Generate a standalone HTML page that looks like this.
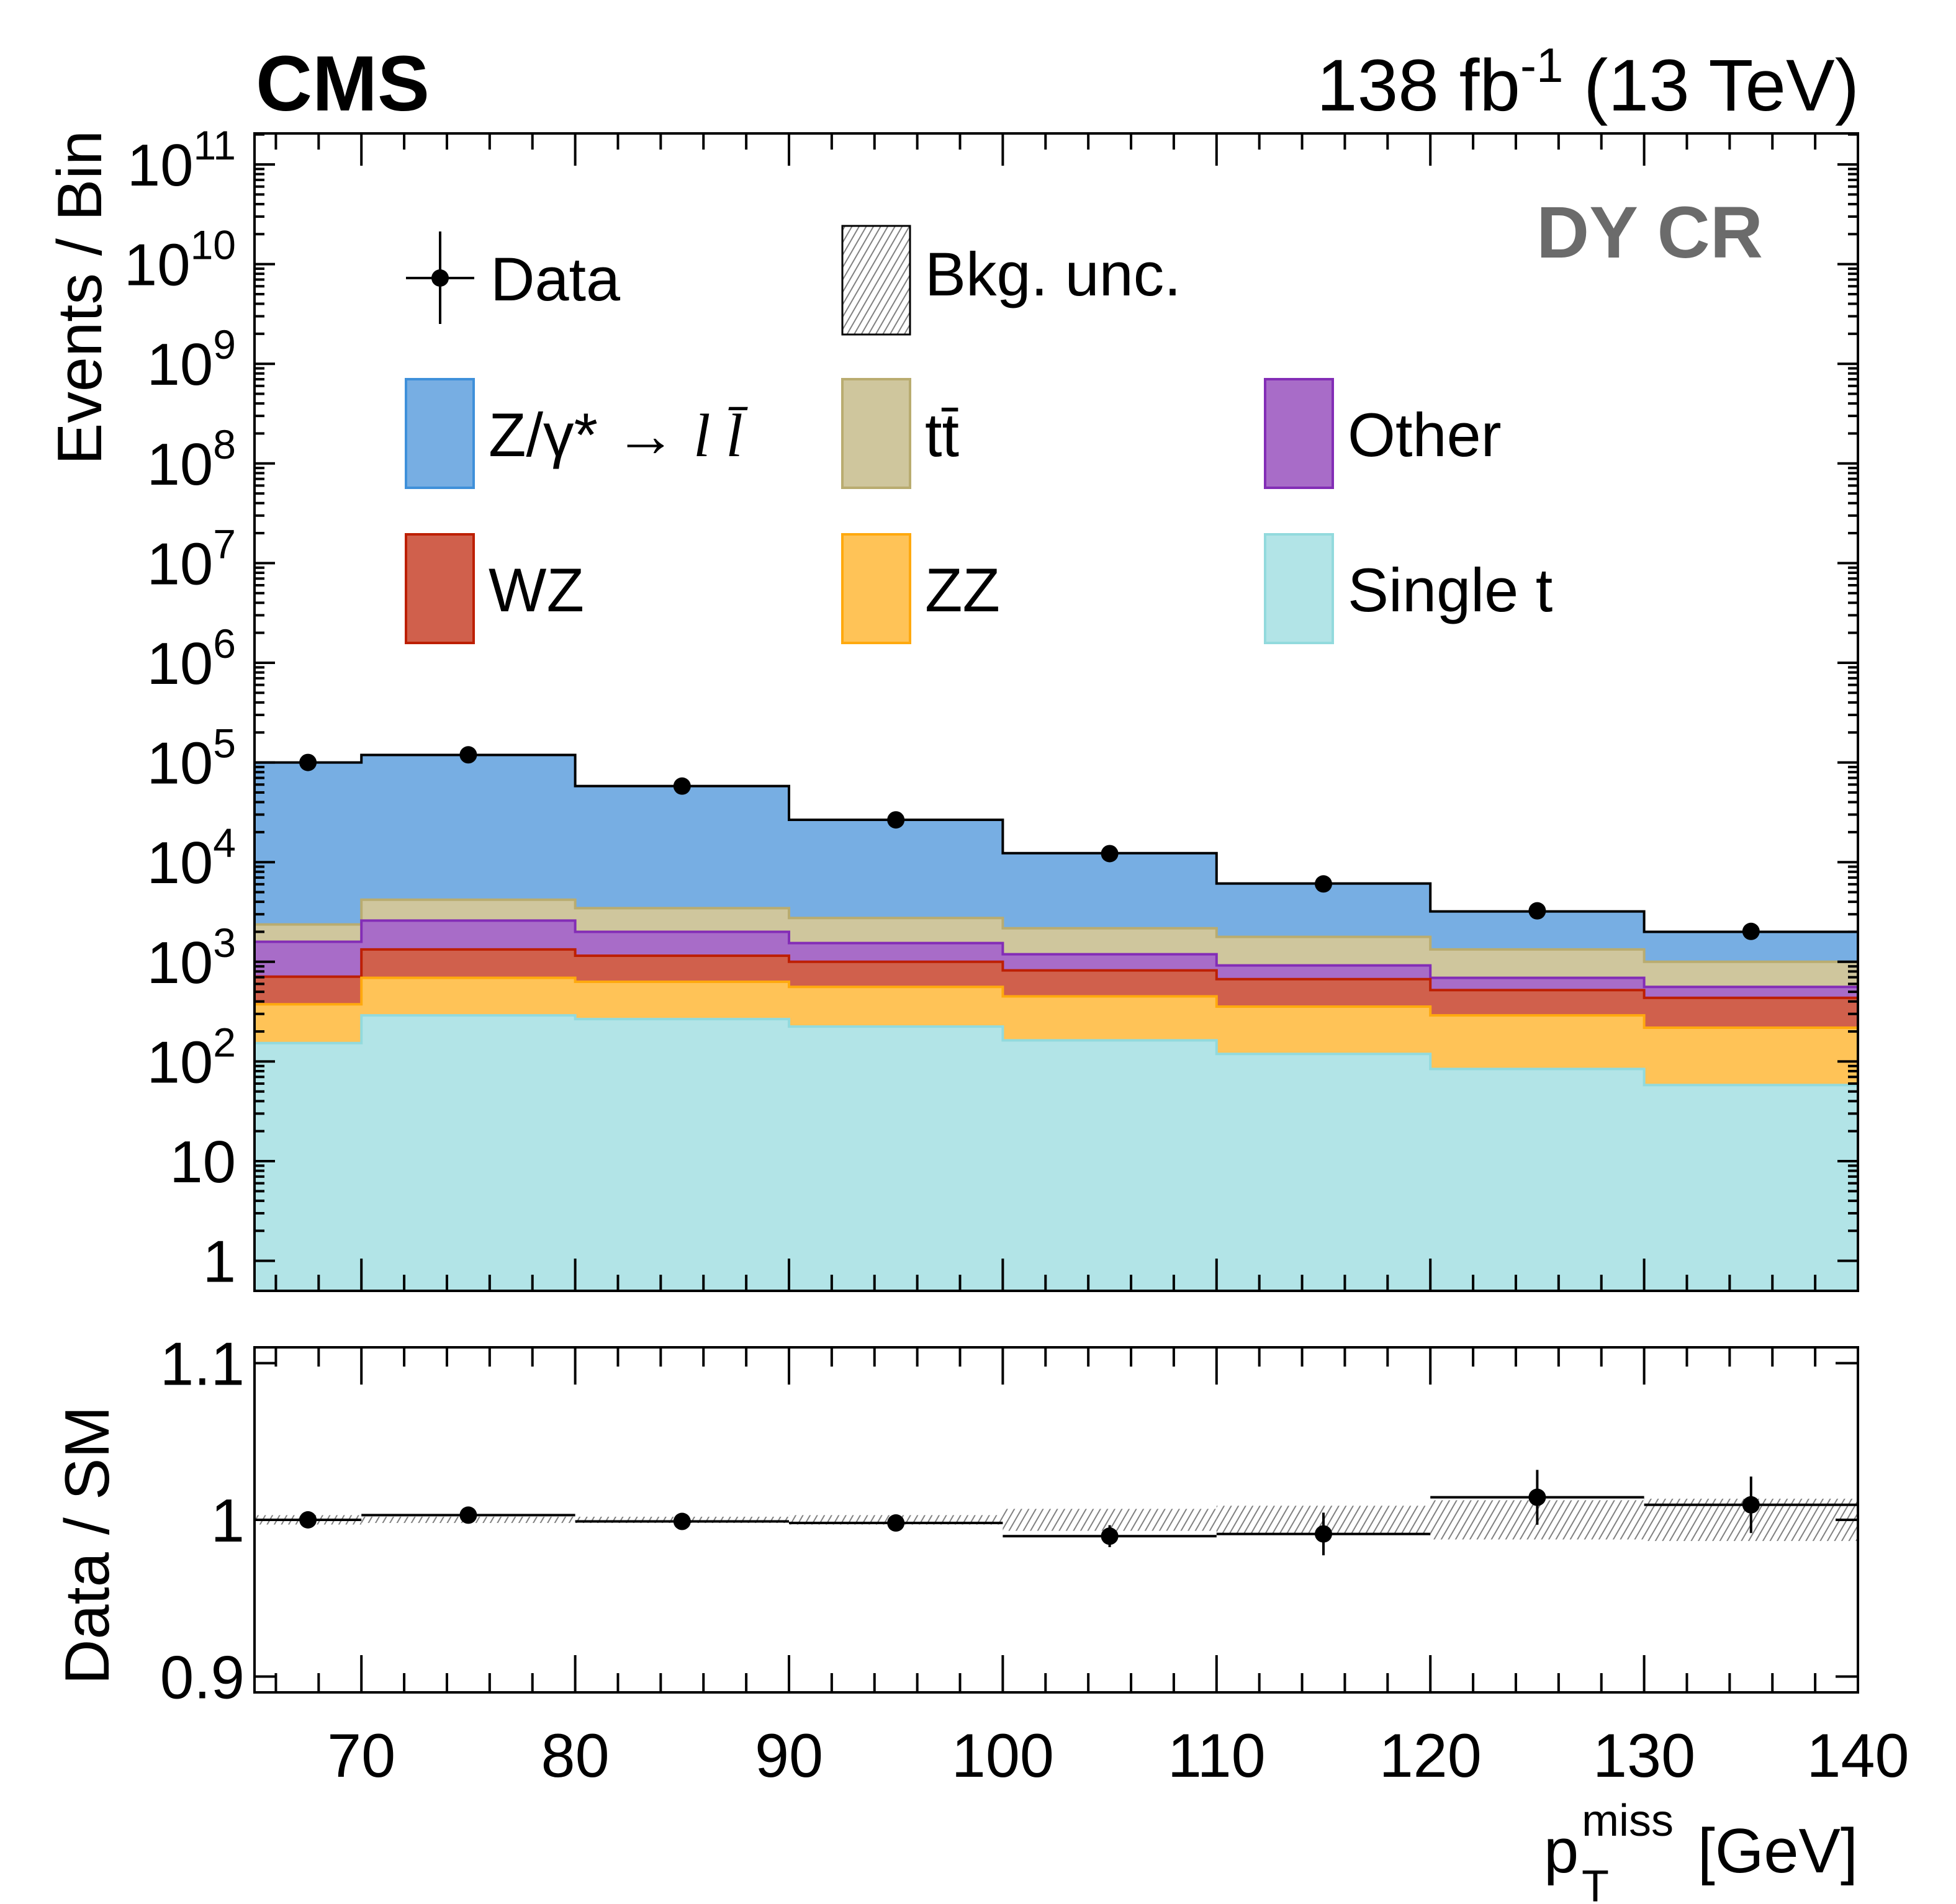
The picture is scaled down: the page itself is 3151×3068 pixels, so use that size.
<!DOCTYPE html>
<html><head><meta charset="utf-8">
<style>
html,body{margin:0;padding:0;background:#fff;}
svg{display:block;font-family:"Liberation Sans",Arial,sans-serif;}
</style></head>
<body>
<svg id="chart" width="3151" height="3068" viewBox="0 0 3151 3068" xmlns="http://www.w3.org/2000/svg">
<defs>
<pattern id="hatch" patternUnits="userSpaceOnUse" width="10" height="10" patternTransform="rotate(30)">
<rect width="10" height="10" fill="none"/>
<line x1="0" y1="0" x2="0" y2="10" stroke="#808080" stroke-width="4"/>
</pattern>
</defs>
<g id="main"></g>
<g id="ratio"></g>
<g id="axes"></g>
<text x="412" y="178" font-size="126" font-weight="bold">CMS</text>
<text x="2995" y="178" font-size="118" text-anchor="end">138 fb<tspan dy="-46" font-size="78">-1</tspan><tspan dy="46"> (13 TeV)</tspan></text>
<text x="2840" y="415" font-size="118" font-weight="bold" fill="#6b6b6b" text-anchor="end">DY CR</text>
<text transform="translate(163,210) rotate(-90)" font-size="101" text-anchor="end">Events / Bin</text>
<text transform="translate(175,2490) rotate(-90)" font-size="101" text-anchor="middle">Data / SM</text>
<g>
<text x="2487" y="3017" font-size="101">p</text>
<text x="2548" y="2958" font-size="72">miss</text>
<text x="2548" y="3064" font-size="72">T</text>
<text x="2993" y="3017" font-size="101" text-anchor="end">[GeV]</text>
</g>
<g id="legend"></g>
</svg>
<script>
const binEdges = [65,70,80,90,100,110,120,130,140];
const singleT = [153,290,266,224,163,119,84,58];
const zz = [222,400,364,336,287,236,206,160];
const wz = [335,640,520,440,370,315,230,217];
const other = [880,1260,850,540,370,250,170,125];
const ttbar = [780,1610,1450,1210,980,860,640,440];
const dy = [97600,114800,54550,23850,10130,4320,1870,1000];
const dataRatio = [1.000,1.003,0.999,0.998,0.9896,0.991,1.0144,1.0096];
const dataRatioErr = [0.002,0.002,0.003,0.004,0.007,0.0136,0.0175,0.018];
const bkgUnc = [0.003,0.002,0.002,0.003,0.007,0.009,0.0125,0.0135];
const logTickExps = [0,1,2,3,4,5,6,7,8,9,10,11];
const xTickLabels = [70,80,90,100,110,120,130,140];
const ratioTicks = [0.9,1.0,1.1];

const NS="http://www.w3.org/2000/svg";
const L=410,R=2993,MT=215,MB=2080,RT=2171,RB=2727;
const X=v=>L+(v-65)*(R-L)/75;
const Y=v=>2031.6-160.6*Math.log10(v);
const YR=v=>2449-(v-1)*2525;
function mk(tag,attrs,parent){const e=document.createElementNS(NS,tag);for(const k in attrs)e.setAttribute(k,attrs[k]);parent.appendChild(e);return e;}
const main=document.getElementById('main'),ratio=document.getElementById('ratio'),axes=document.getElementById('axes'),legend=document.getElementById('legend');

const procs=[
 {n:'single-t',v:singleT,f:'#b2e4e7',s:'#92dadd'},
 {n:'zz',v:zz,f:'#ffc357',s:'#ffa90e'},
 {n:'wz',v:wz,f:'#d0604c',s:'#bd1f01'},
 {n:'other',v:other,f:'#a86cc8',s:'#832db6'},
 {n:'ttbar',v:ttbar,f:'#cfc69d',s:'#b9ac70'},
 {n:'dy',v:dy,f:'#77aee3',s:'#3f90da'}];
let cum=new Array(8).fill(0);
const tops=[];
procs.forEach(p=>{cum=cum.map((c,i)=>c+p.v[i]);tops.push({p:p,t:cum.slice()});});
const total=cum.slice();
for(let k=tops.length-1;k>=0;k--){
  const t=tops[k].t,p=tops[k].p;
  let d='M'+X(65)+','+MB;
  let line='';
  for(let i=0;i<8;i++){const y=Math.max(MT,Y(t[i]));d+=' L'+X(binEdges[i])+','+y+' L'+X(binEdges[i+1])+','+y;line+=(i?' L':'M')+X(binEdges[i])+','+y+' L'+X(binEdges[i+1])+','+y;}
  d+=' L'+X(140)+','+MB+' Z';
  const a=mk('path',{d:d,fill:p.f},main);
  
  
  const o=mk('path',{d:line,fill:'none',stroke:k===tops.length-1?'#000':p.s,'stroke-width':4},main);
  
  
}
for(let i=0;i<8;i++){
  const cx=(X(binEdges[i])+X(binEdges[i+1]))/2, val=total[i]*dataRatio[i];
  const c=mk('circle',{cx:cx,cy:Y(val),r:14,fill:'#000'},main);
  
  
}
for(let i=0;i<8;i++){
  const x0=X(binEdges[i]),x1=X(binEdges[i+1]);
  const b=mk('rect',{x:x0,y:YR(1+bkgUnc[i]),width:x1-x0,height:YR(1-bkgUnc[i])-YR(1+bkgUnc[i]),fill:'url(#hatch)'},ratio);
  
  
  const h=mk('line',{x1:x0,x2:x1,y1:YR(dataRatio[i]),y2:YR(dataRatio[i]),stroke:'#000','stroke-width':4},ratio);
  
  
  const cx=(x0+x1)/2;
  const e=mk('line',{x1:cx,x2:cx,y1:YR(dataRatio[i]+dataRatioErr[i]),y2:YR(dataRatio[i]-dataRatioErr[i]),stroke:'#000','stroke-width':4},ratio);
  
  
  const c=mk('circle',{cx:cx,cy:YR(dataRatio[i]),r:14,fill:'#000'},ratio);
  
  
}
[[MT,MB],[RT,RB]].forEach((f,j)=>{
  const r=mk('rect',{x:L,y:f[0],width:R-L,height:f[1]-f[0],fill:'none',stroke:'#000','stroke-width':4},axes);
  
  
  for(let v=66;v<140;v+=2){
    const major=v%10===0, len=major?(j?60:52):(j?31:26);
    mk('line',{x1:X(v),x2:X(v),y1:f[1],y2:f[1]-len,stroke:'#000','stroke-width':4},axes);
    mk('line',{x1:X(v),x2:X(v),y1:f[0],y2:f[0]+len,stroke:'#000','stroke-width':4},axes);
  }
});
logTickExps.forEach(e=>{
  for(let m=1;m<10;m++){
    const v=m*Math.pow(10,e);const y=Y(v);if(y<MT||y>MB)continue;
    const len=m===1?33:16;
    mk('line',{x1:L,x2:L+len,y1:y,y2:y,stroke:'#000','stroke-width':4},axes);
    mk('line',{x1:R,x2:R-len,y1:y,y2:y,stroke:'#000','stroke-width':4},axes);
  }
  const y=Y(Math.pow(10,e));
  const t=mk('text',{x:380,y:y+34,'font-size':96,'text-anchor':'end'},axes);
  
  
  if(e===0)t.textContent='1';else if(e===1)t.textContent='10';
  else{
    const b=mk('tspan',{},t);b.textContent='10';
    const s=mk('tspan',{dy:-42,'font-size':66},t);s.textContent=e;
  }
});
ratioTicks.forEach(v=>{
  const y=YR(v);
  mk('line',{x1:L,x2:L+36,y1:y,y2:y,stroke:'#000','stroke-width':4},axes);
  mk('line',{x1:R,x2:R-36,y1:y,y2:y,stroke:'#000','stroke-width':4},axes);
  const t=mk('text',{x:394,y:y+35,'font-size':98,'text-anchor':'end'},axes);
  
  
  t.textContent=v===1?'1':v.toFixed(1);
});
xTickLabels.forEach(v=>{
  const t=mk('text',{x:X(v),y:2863,'font-size':99,'text-anchor':'middle'},axes);
  
  
  t.textContent=v;
});
mk('line',{x1:654,x2:764,y1:448,y2:448,stroke:'#000','stroke-width':4},legend);
mk('line',{x1:709,x2:709,y1:373,y2:522,stroke:'#000','stroke-width':4},legend);
mk('circle',{cx:709,cy:448,r:14,fill:'#000'},legend);
const lt=mk('text',{x:790,y:484,'font-size':99},legend);lt.textContent='Data';


mk('rect',{x:1357,y:364,width:109,height:175,fill:'url(#hatch)',stroke:'#000','stroke-width':3},legend);
const bt=mk('text',{x:1490,y:476,'font-size':99},legend);bt.textContent='Bkg. unc.';


const entries=[
 {x:654,y:611,f:'#77aee3',s:'#3f90da',n:'dy',html:'Z/γ* → <tspan font-style="italic" font-family="Liberation Serif">l l̄</tspan>'},
 {x:1357,y:611,f:'#cfc69d',s:'#b9ac70',n:'ttbar',html:'tt̄'},
 {x:2038,y:611,f:'#a86cc8',s:'#832db6',n:'other',html:'Other'},
 {x:654,y:861,f:'#d0604c',s:'#bd1f01',n:'wz',html:'WZ'},
 {x:1357,y:861,f:'#ffc357',s:'#ffa90e',n:'zz',html:'ZZ'},
 {x:2038,y:861,f:'#b2e4e7',s:'#92dadd',n:'single-t',html:'Single t'}];
entries.forEach(en=>{
  const r=mk('rect',{x:en.x,y:en.y,width:109,height:175,fill:en.f,stroke:en.s,'stroke-width':4},legend);
  
  
  const t=mk('text',{x:en.x+133,y:en.y+124,'font-size':99},legend);
  t.innerHTML=en.html;
  
  
});
</script>
</body></html>
